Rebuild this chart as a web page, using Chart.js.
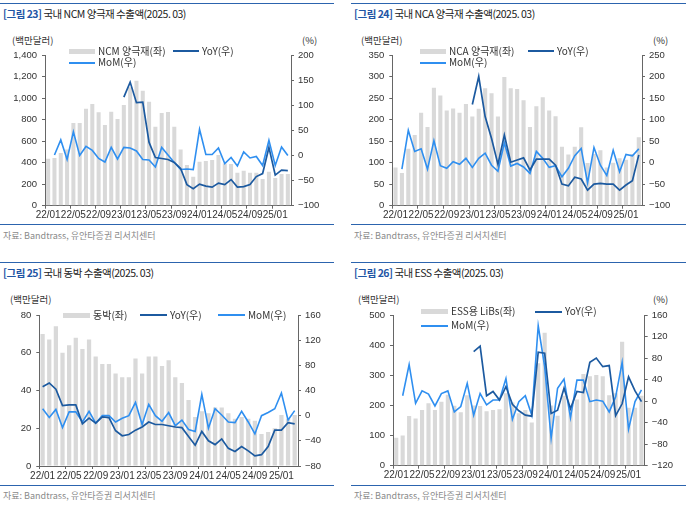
<!DOCTYPE html>
<html>
<head>
<meta charset="utf-8">
<script src="https://cdn.jsdelivr.net/npm/chart.js@4.4.1/dist/chart.umd.min.js"></script>
<style>
  body { margin: 0; width: 686px; height: 505px; background: #fff; position: relative; overflow: hidden;
         font-family: "Liberation Sans", "Noto Sans CJK KR", sans-serif; }
  .panel { position: absolute; height: 250px; }
  .rule { position: absolute; left: 0; right: 0; border-top: 1.5px solid #2c64ae; }
  .title { position: absolute; left: 3px; top: 6px; font-family: "Noto Sans CJK KR", sans-serif; font-size: 10.5px;
           color: #222; letter-spacing: -0.5px; white-space: nowrap; }
  .title b { color: #1f55a5; }
  .unit { position: absolute; top: 33px; font-family: "Noto Sans CJK KR", sans-serif; font-size: 9.5px; color: #333; white-space: nowrap; }
  .source { position: absolute; left: 3px; font-family: "Noto Sans CJK KR", sans-serif; font-size: 9px; color: #8a8a8a; white-space: nowrap; }
  canvas { position: absolute; left: 0; top: 40px; }
  .lg { position: absolute; font-family: "Noto Sans CJK KR", sans-serif; font-size: 10px; color: #333; white-space: nowrap; line-height: 12px; }
  .sw { position: absolute; }
</style>
</head>
<body>
<div id="panels"></div>
<script>
const months = ["22/01","22/02","22/03","22/04","22/05","22/06","22/07","22/08","22/09","22/10","22/11","22/12",
  "23/01","23/02","23/03","23/04","23/05","23/06","23/07","23/08","23/09","23/10","23/11","23/12",
  "24/01","24/02","24/03","24/04","24/05","24/06","24/07","24/08","24/09","24/10","24/11","24/12",
  "25/01","25/02","25/03"];

// 그림 23: NCM 양극재 (백만달러, %)
const ncmExport = [437,443,490,523,768,768,901,945,867,750,873,805,935,1100,1161,1068,966,734,861,870,
  734,523,378,269,408,415,424,470,393,387,307,325,307,307,248,316,257,294,294];
const ncmYoy = [null,null,null,null,null,null,null,null,null,null,null,null,
  116,146,105,106,26,-4,-6,-8,-14,-26,-58,-66,-57,-61,-63,-55,-58,-48,-63,-62,-58,-42,-36,16,-39,-29,-30];
const ncmMom = [null,1,31,-8,47,0,18,10,-6,-13,16,-7,16,15,9,-8,-9,-23,16,1,
  -14,-28,-27,-28,52,2,2,15,-16,-4,-21,7,-5,-2,-20,30,-20,17,0];

// 그림 24: NCA 양극재
const ncaExport = [89,76,132,164,216,183,274,256,221,226,216,236,207,225,273,261,207,299,273,271,
  245,183,231,252,221,208,137,119,137,182,99,120,129,89,100,110,107,120,159];
const ncaYoy = [null,null,null,null,null,null,null,null,null,null,null,null,
  135,200,107,56,-4,64,1,6,11,-17,8,8,8,-6,-50,-54,-34,-38,-64,-50,-48,-50,-50,-64,-52,-42,18];
const ncaMom = [null,-15,75,26,32,-15,51,-7,-13,2,-4,10,-11,10,22,-6,-20,46,-8,-2,
  -10,-25,26,10,-11,-7,-33,-13,16,33,-47,35,-6,-30,29,-21,19,16,32];

// 그림 25: 동박
const foilExport = [70,67,74,60,64,68,62,67,58,54,54,49,47,47,57,49,58,58,53,56,
  47,44,35,26,29,28,31,31,28,25,26,25,24,17,18,20,27,25,27];
const foilYoy = [46,52,42,16,17,17,-13,-4,-12,-2,-3,-24,-32,-30,-23,-18,-10,-14,-14,-16,
  -18,-19,-33,-47,-25,-40,-46,-37,-52,-57,-49,-56,-64,-62,-49,-23,-23,-11,-13];
const foilMom = [11,-3,10,-19,6,6,-10,7,-12,0,0,-10,-4,0,21,-14,18,0,-9,5,
  -16,-7,-22,-25,34,-20,11,1,-10,-11,7,-10,-29,0,5,11,36,-7,8];

// 그림 26: ESS용 LiBs
const essExport = [93,100,165,157,185,207,185,212,235,199,177,234,200,198,181,185,187,240,210,174,
  185,143,340,441,200,166,232,190,220,304,297,301,297,234,240,411,192,192,232];
const essYoy = [null,null,null,null,null,null,null,null,null,null,null,null,
  92,102,10,18,2,27,-6,-18,-26,-28,91,89,-23,-17,24,-14,18,16,72,80,64,66,-27,-5,45,19,-1];
const essMom = [null,10,68,-4,19,13,-9,14,19,-20,-10,33,-26,14,-7,2,2,42,-34,-1,
  10,-26,140,64,-69,24,41,-31,39,39,-1,2,0,-20,8,72,-52,-1,21];

const leftTicks = { ncm: [0, 1400, 200], nca: [0, 350, 50], foil: [0, 80, 20], ess: [0, 500, 100] };
const rightTicks = { ncm: [-100, 200, 50], nca: [-100, 250, 50], foil: [-80, 160, 40], ess: [-120, 160, 40] };

const COLORS = { bar: "#d9d9d9", yoy: "#1c5aa0", mom: "#2f8ff0", axis: "#666", text: "#333" };
const SOURCE = "자료: Bandtrass, 유안타증권 리서치센터";

const panels = [
  { key: "ncm", x: 0, y: 0, w: 334, no: 23, name: "국내 NCM 양극재 수출액(2025. 03)", barLabel: "NCM 양극재(좌)",
    bars: ncmExport, yoy: ncmYoy, mom: ncmMom, area: { l: 45, t: 15, r: 291, b: 165.7 }, pct: 302, unitX: 12,
    bottomRule: 224, sourceY: 229,
    legend: { bar: [69, 51], yoy: [173, 51], mom: [69, 62.7], w: 26 } },
  { key: "nca", x: 351, y: 0, w: 335, no: 24, name: "국내 NCA 양극재 수출액(2025. 03)", barLabel: "NCA 양극재(좌)",
    bars: ncaExport, yoy: ncaYoy, mom: ncaMom, area: { l: 41.3, t: 15, r: 291, b: 165.7 }, pct: 302, unitX: 10,
    bottomRule: 224, sourceY: 229,
    legend: { bar: [69, 51], yoy: [177, 51], mom: [69, 62.7], w: 26 } },
  { key: "foil", x: 0, y: 259, w: 334, no: 25, name: "국내 동박 수출액(2025. 03)", barLabel: "동박(좌)",
    bars: foilExport, yoy: foilYoy, mom: foilMom, area: { l: 39.3, t: 16, r: 298, b: 167 }, pct: null, unitX: 10,
    bottomRule: 226, sourceY: 230,
    legend: { bar: [63, 56], yoy: [140, 56], mom: [218, 56], w: 27 } },
  { key: "ess", x: 351, y: 259, w: 335, no: 26, name: "국내 ESS 수출액(2025. 03)", barLabel: "ESS용 LiBs(좌)",
    bars: essExport, yoy: essYoy, mom: essMom, area: { l: 42, t: 16, r: 293.7, b: 166.7 }, pct: 302, unitX: 7,
    bottomRule: 226, sourceY: 230,
    legend: { bar: [70, 52.7], yoy: [184, 52.7], mom: [70, 66.7], w: 27 } }
];

const tickFont = { family: "'Liberation Sans', sans-serif", size: 9.5 };
const xTickFont = { family: "'Liberation Sans', sans-serif", size: 10 };
const minus = (v) => String(v).replace("-", "\u2212");

function addLegendItem(div, kind, pos, w, label) {
  const sw = document.createElement("div");
  sw.className = "sw";
  sw.style.left = pos[0] + "px";
  sw.style.width = w + "px";
  if (kind === "bar") {
    sw.style.top = (pos[1] - 2.5) + "px";
    sw.style.height = "5px";
    sw.style.background = COLORS.bar;
  } else {
    sw.style.top = (pos[1] - 1) + "px";
    sw.style.height = "2px";
    sw.style.background = kind === "yoy" ? COLORS.yoy : COLORS.mom;
  }
  div.appendChild(sw);
  const t = document.createElement("div");
  t.className = "lg";
  t.style.left = (pos[0] + w + 3) + "px";
  t.style.top = (pos[1] - 6.5) + "px";
  t.textContent = label;
  div.appendChild(t);
}

function buildPanel(p) {
  const div = document.createElement("div");
  div.className = "panel";
  div.style.left = p.x + "px";
  div.style.top = p.y + "px";
  div.style.width = p.w + "px";
  div.innerHTML =
    `<div class="rule" style="top:3px"></div>` +
    `<div class="title"><b>[그림 ${p.no}]</b> ${p.name}</div>` +
    `<div class="unit" style="left:${p.unitX}px">(백만달러)</div>` +
    (p.pct ? `<div class="unit" style="left:${p.pct}px">(%)</div>` : "") +
    `<div class="rule" style="top:${p.bottomRule}px"></div>` +
    `<div class="source" style="top:${p.sourceY}px">${SOURCE}</div>`;
  document.getElementById("panels").appendChild(div);

  const canvas = document.createElement("canvas");
  const W = p.w, H = 190;
  canvas.width = W; canvas.height = H;
  canvas.style.width = W + "px"; canvas.style.height = H + "px";
  div.appendChild(canvas);

  const lt = leftTicks[p.key], rt = rightTicks[p.key];
  new Chart(canvas, {
    data: {
      labels: months,
      datasets: [
        { type: "line", label: "YoY(우)", data: p.yoy, yAxisID: "y1", borderColor: COLORS.yoy,
          borderWidth: 1.7, pointRadius: 0, tension: 0, order: 0 },
        { type: "line", label: "MoM(우)", data: p.mom, yAxisID: "y1", borderColor: COLORS.mom,
          borderWidth: 1.6, pointRadius: 0, tension: 0, order: 1 },
        { type: "bar", label: p.barLabel, data: p.bars, yAxisID: "y", backgroundColor: COLORS.bar,
          barPercentage: 0.64, categoryPercentage: 1, order: 2 }
      ]
    },
    options: {
      responsive: false,
      animation: false,
      layout: { padding: { top: p.area.t, left: 0, right: 0, bottom: 0 } },
      plugins: { legend: { display: false }, tooltip: { enabled: false } },
      scales: {
        x: {
          offset: true,
          grid: { offset: true, drawOnChartArea: false, tickLength: 3,
                  tickColor: (ctx) => (ctx.index % 4 === 0 ? COLORS.axis : "rgba(0,0,0,0)") },
          border: { color: COLORS.axis, width: 1 },
          ticks: { autoSkip: false, maxRotation: 0, minRotation: 0, padding: 1, font: xTickFont, color: COLORS.text,
                   callback: (v, i) => (i % 4 === 0 ? months[i] : "") },
          afterFit: (s) => { s.height = H - p.area.b; }
        },
        y: {
          position: "left", min: lt[0], max: lt[1],
          grid: { drawOnChartArea: false, tickLength: 3, color: COLORS.axis },
          border: { color: COLORS.axis, width: 1 },
          ticks: { stepSize: lt[2], padding: 5, font: tickFont, color: COLORS.text,
                   callback: (v) => v.toLocaleString("en-US") },
          afterFit: (s) => { s.width = p.area.l; }
        },
        y1: {
          position: "right", min: rt[0], max: rt[1],
          grid: { drawOnChartArea: false, tickLength: 3, color: COLORS.axis },
          border: { color: COLORS.axis, width: 1 },
          ticks: { stepSize: rt[2], padding: 4, font: tickFont, color: COLORS.text, callback: minus },
          afterFit: (s) => { s.width = W - p.area.r; }
        }
      }
    }
  });

  const lg = p.legend;
  addLegendItem(div, "bar", lg.bar, lg.w, p.barLabel);
  addLegendItem(div, "yoy", lg.yoy, lg.w, "YoY(우)");
  addLegendItem(div, "mom", lg.mom, lg.w, "MoM(우)");
}

panels.forEach(buildPanel);
</script>
</body>
</html>
